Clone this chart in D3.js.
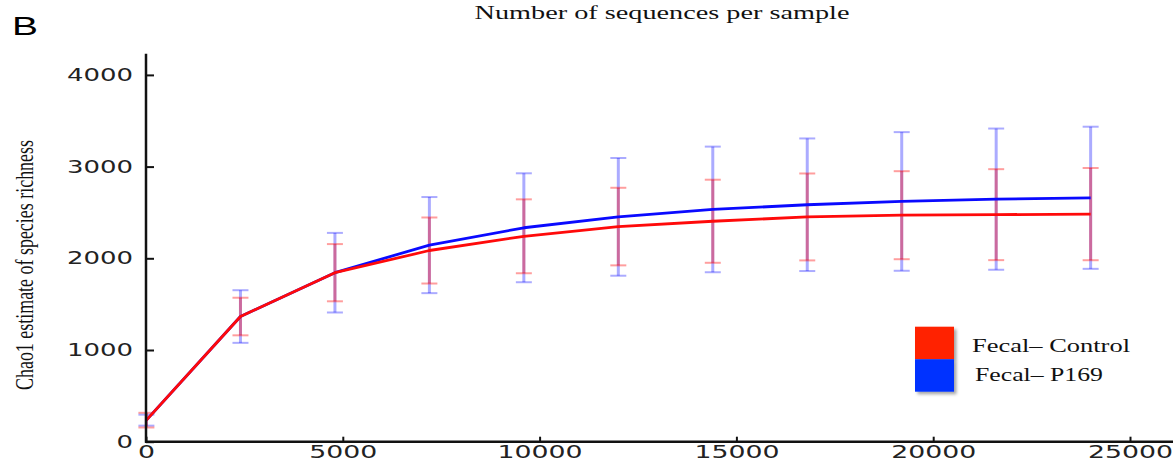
<!DOCTYPE html>
<html>
<head>
<meta charset="utf-8">
<script src="https://cdn.jsdelivr.net/npm/d3@7"></script>
<style>
  html, body { margin: 0; padding: 0; background: #fff; }
  svg { display: block; }
</style>
</head>
<body>
<svg id="chart" width="1173" height="461"></svg>
<script>
// ---- data ----
const seqDepth    = [10, 2400, 4800, 7200, 9600, 12000, 14400, 16800, 19200, 21600, 24000];
const controlMean = [235, 1365, 1843, 2085, 2240, 2346, 2404, 2451, 2470, 2476, 2482];
const controlErr  = [80, 205, 312, 360, 403, 423, 453, 474, 480, 496, 503];
const p169Mean    = [235, 1365, 1843, 2144, 2333, 2452, 2533, 2584, 2620, 2645, 2660];
const p169Err     = [60, 287, 434, 524, 594, 642, 685, 723, 756, 770, 775];
const xTicks = [0, 5000, 10000, 15000, 20000, 25000];
const yTicks = [0, 1000, 2000, 3000, 4000];
const seriesNames = ["Fecal\u2013 Control", "Fecal\u2013 P169"];

const svg = d3.select("#chart");
const x = d3.scaleLinear().domain([0, 25000]).range([146, 1130]);
const y = d3.scaleLinear().domain([0, 4000]).range([441.7, 74.9]);

const series = [
  { name: seriesNames[1], mean: p169Mean, err: p169Err, line: "#0a0aff", bar: "#0000ff", barOp: 0.33, legend: "#0033ff" },
  { name: seriesNames[0], mean: controlMean, err: controlErr, line: "#ff0a0a", bar: "#ff0000", barOp: 0.38, legend: "#ff2200" }
];

// shadow filter for legend
const defs = svg.append("defs");
const f = defs.append("filter").attr("id", "shadow").attr("x", "-20%").attr("y", "-20%").attr("width", "150%").attr("height", "150%");
f.append("feDropShadow").attr("dx", 2.5).attr("dy", 2.5).attr("stdDeviation", 1.5).attr("flood-color", "#000").attr("flood-opacity", 0.35);

// error bars
series.forEach(s => {
  const g = svg.append("g").attr("stroke", s.bar).attr("stroke-opacity", s.barOp);
  seqDepth.forEach((d, i) => {
    const lo = y(s.mean[i] - s.err[i]), hi = y(s.mean[i] + s.err[i]);
    g.append("line").attr("x1", x(d)).attr("x2", x(d)).attr("y1", lo).attr("y2", hi).attr("stroke-width", 3);
    g.append("line").attr("x1", x(d) - 8).attr("x2", x(d) + 8).attr("y1", lo).attr("y2", lo).attr("stroke-width", 2);
    g.append("line").attr("x1", x(d) - 8).attr("x2", x(d) + 8).attr("y1", hi).attr("y2", hi).attr("stroke-width", 2);
  });
});

// lines
const lineGen = d3.line().x((d, i) => x(seqDepth[i])).y(d => y(d));
series.forEach(s => {
  svg.append("path").datum(s.mean).attr("d", lineGen)
    .attr("fill", "none").attr("stroke", s.line).attr("stroke-width", 2.8).attr("stroke-linejoin", "round");
});

// axes
const digitW = 16.5;
const yAxis = d3.axisLeft(y).tickValues(yTicks).tickSize(-8).tickSizeOuter(0).tickPadding(13).tickFormat(d3.format("d"));
const gy = svg.append("g").attr("transform", `translate(${x(0)},0)`).call(yAxis);
gy.select(".domain").remove();
gy.selectAll(".tick line").attr("stroke", "#111").attr("stroke-width", 2);
gy.selectAll(".tick text").attr("font-family", "DejaVu Sans, sans-serif").attr("font-size", 17).attr("fill", "#222")
  .each(function(d){ const t = String(d); d3.select(this).attr("textLength", t.length * digitW).attr("lengthAdjust", "spacingAndGlyphs"); });

const xAxis = d3.axisBottom(x).tickValues(xTicks).tickSize(-5).tickSizeOuter(0).tickPadding(4).tickFormat(d3.format("d"));
const gx = svg.append("g").attr("transform", `translate(0,${y(0)})`).call(xAxis);
gx.select(".domain").remove();
gx.selectAll(".tick line").attr("stroke", "#111").attr("stroke-width", 2);
gx.selectAll(".tick text").attr("font-family", "DejaVu Sans, sans-serif").attr("font-size", 17).attr("fill", "#222")
  .each(function(d){ const t = String(d); d3.select(this).attr("textLength", t.length * 17).attr("lengthAdjust", "spacingAndGlyphs"); });

// axis lines
svg.append("line").attr("x1", x(0)).attr("x2", x(0)).attr("y1", y(0) + 1).attr("y2", y(4230))
  .attr("stroke", "#111").attr("stroke-width", 2.5);
svg.append("line").attr("x1", x(0) - 1).attr("x2", x(26100)).attr("y1", y(0)).attr("y2", y(0))
  .attr("stroke", "#111").attr("stroke-width", 2.5);

// title
svg.append("text").attr("x", 662).attr("y", 19).attr("text-anchor", "middle")
  .attr("font-family", "Liberation Serif, Times New Roman, serif").attr("font-size", 18).attr("fill", "#111")
  .attr("textLength", 375).attr("lengthAdjust", "spacingAndGlyphs")
  .text("Number of sequences per sample");

// panel letter
svg.append("text").attr("x", 12).attr("y", 35)
  .attr("font-family", "Liberation Sans, Arial, sans-serif").attr("font-size", 25).attr("fill", "#000")
  .attr("textLength", 26).attr("lengthAdjust", "spacingAndGlyphs")
  .text("B");

// y label
svg.append("text").attr("transform", "translate(33,265) rotate(-90)").attr("text-anchor", "middle")
  .attr("font-family", "Liberation Serif, Times New Roman, serif").attr("font-size", 25).attr("fill", "#111")
  .attr("textLength", 250).attr("lengthAdjust", "spacingAndGlyphs")
  .text("Chao1 estimate of species richness");

// legend
const legend = svg.append("g");
const legendItems = [series[1], series[0]];
const textW = [158, 128];
legendItems.forEach((s, i) => {
  legend.append("rect").attr("x", 915).attr("y", 326.7 + i * 32.5).attr("width", 39).attr("height", 32.5)
    .attr("fill", s.legend).attr("filter", "url(#shadow)");
});
legendItems.forEach((s, i) => {
  legend.append("text").attr("x", i === 0 ? 972 : 975).attr("y", 351.7 + i * 29)
    .attr("font-family", "Liberation Serif, Times New Roman, serif").attr("font-size", 18).attr("fill", "#111")
    .attr("textLength", textW[i]).attr("lengthAdjust", "spacingAndGlyphs")
    .text(s.name);
});
</script>
</body>
</html>
